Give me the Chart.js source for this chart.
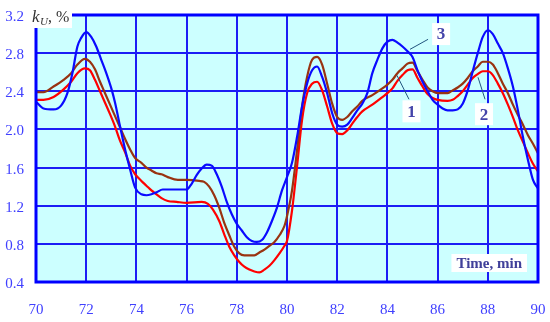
<!DOCTYPE html>
<html>
<head>
<meta charset="utf-8">
<script src="https://cdn.jsdelivr.net/npm/chart.js@4/dist/chart.umd.min.js"></script>
<style>
  html, body { margin: 0; padding: 0; background: #ffffff; }
  #wrap { width: 550px; height: 322px; }
</style>
</head>
<body>
<div id="wrap"><canvas id="c" width="550" height="322"></canvas></div>
<script>
// ---- Data ----
// Curve 1 (red)
const series1Time = [70.0,70.3,70.7,71.1,71.4,71.65,71.95,72.15,72.35,72.55,72.75,72.95,73.15,73.35,73.55,73.75,73.95,74.2,74.4,74.6,74.8,75.0,75.25,75.6,76.0,76.6,76.85,77.05,77.3,77.5,77.7,77.9,78.1,78.3,78.5,78.7,78.9,79.1,79.3,79.5,79.7,79.9,80.0,80.2,80.4,80.6,80.8,81.0,81.2,81.4,81.6,81.8,82.0,82.2,82.4,82.6,82.8,83.0,83.4,83.8,84.0,84.2,84.4,84.6,84.8,85.0,85.2,85.4,85.6,85.8,86.0,86.4,86.6,86.8,87.0,87.2,87.4,87.6,87.8,88.0,88.2,88.4,88.6,88.8,89.0,89.2,89.4,89.6,89.8,90.0];
const series1Values = [2.31,2.31,2.34,2.42,2.50,2.59,2.64,2.62,2.52,2.40,2.28,2.16,2.03,1.88,1.76,1.62,1.53,1.46,1.41,1.36,1.32,1.28,1.25,1.24,1.23,1.24,1.22,1.16,1.04,0.90,0.77,0.68,0.61,0.56,0.53,0.51,0.50,0.53,0.57,0.63,0.70,0.78,0.83,1.15,1.61,2.10,2.38,2.48,2.50,2.41,2.24,2.06,1.96,1.95,1.99,2.06,2.13,2.19,2.26,2.34,2.38,2.43,2.51,2.57,2.62,2.63,2.54,2.45,2.37,2.33,2.31,2.30,2.31,2.35,2.40,2.47,2.54,2.58,2.61,2.61,2.57,2.48,2.38,2.26,2.13,1.99,1.87,1.75,1.64,1.56];

// Curve 2 (brown)
const series2Time = [70.0,70.3,70.7,71.1,71.4,71.65,71.95,72.15,72.35,72.55,72.75,72.95,73.15,73.35,73.55,73.75,73.95,74.2,74.4,74.6,74.8,75.0,75.25,75.65,76.0,76.5,76.7,76.9,77.1,77.3,77.5,77.7,77.9,78.1,78.3,78.7,78.9,79.1,79.3,79.5,79.7,79.9,80.0,80.2,80.4,80.6,80.8,81.0,81.2,81.4,81.6,81.8,82.0,82.2,82.4,82.6,82.8,83.0,83.4,83.8,84.0,84.2,84.4,84.6,84.8,85.0,85.2,85.4,85.6,85.8,86.0,86.4,86.6,86.8,87.0,87.2,87.4,87.6,87.8,88.0,88.2,88.4,88.6,88.8,89.0,89.2,89.4,89.6,89.8,90.0];
const series2Values = [2.39,2.39,2.45,2.52,2.59,2.68,2.74,2.71,2.63,2.50,2.38,2.26,2.14,2.02,1.90,1.79,1.70,1.65,1.60,1.57,1.54,1.53,1.50,1.47,1.47,1.46,1.45,1.40,1.31,1.18,1.02,0.89,0.77,0.70,0.68,0.68,0.71,0.74,0.78,0.82,0.89,0.99,1.09,1.36,1.78,2.24,2.55,2.73,2.76,2.68,2.48,2.27,2.13,2.10,2.13,2.19,2.24,2.30,2.36,2.43,2.47,2.52,2.59,2.64,2.69,2.70,2.61,2.52,2.44,2.40,2.38,2.38,2.41,2.44,2.48,2.54,2.61,2.66,2.71,2.71,2.68,2.59,2.48,2.38,2.26,2.15,2.05,1.94,1.85,1.75];

// Curve 3 (blue)
const series3Time = [70.0,70.3,70.7,71.0,71.25,71.45,71.65,71.8,72.0,72.2,72.4,72.6,72.8,73.0,73.15,73.35,73.55,73.75,73.95,74.2,74.4,74.6,74.8,75.05,75.6,76.0,76.2,76.4,76.6,76.8,77.0,77.2,77.4,77.6,77.8,78.0,78.2,78.4,78.6,78.8,79.0,79.2,79.4,79.6,79.8,80.0,80.2,80.4,80.6,80.8,81.0,81.2,81.4,81.6,81.8,82.0,82.2,82.4,82.6,82.8,83.0,83.2,83.4,83.6,83.8,84.0,84.2,84.4,84.6,84.8,85.0,85.2,85.4,85.6,85.8,86.0,86.2,86.4,86.6,86.8,87.0,87.2,87.4,87.6,87.8,88.0,88.2,88.4,88.6,88.8,89.0,89.2,89.4,89.6,89.8,90.0];
const series3Values = [2.29,2.22,2.21,2.25,2.38,2.59,2.87,2.96,3.02,2.97,2.87,2.73,2.59,2.43,2.28,2.03,1.79,1.58,1.39,1.32,1.31,1.32,1.34,1.37,1.37,1.37,1.43,1.52,1.59,1.63,1.62,1.53,1.40,1.24,1.11,1.01,0.94,0.87,0.83,0.82,0.84,0.92,1.04,1.18,1.36,1.50,1.65,1.92,2.24,2.48,2.62,2.66,2.55,2.38,2.17,2.05,2.03,2.05,2.12,2.20,2.27,2.38,2.59,2.73,2.85,2.92,2.94,2.91,2.87,2.82,2.76,2.62,2.50,2.40,2.31,2.26,2.22,2.20,2.20,2.21,2.27,2.41,2.61,2.80,2.97,3.04,3.00,2.90,2.80,2.64,2.45,2.20,1.92,1.68,1.47,1.38];

// Tick labels
const xTickValues = [70,72,74,76,78,80,82,84,86,88,90];
const yTickValues = [0.4,0.8,1.2,1.6,2.0,2.4,2.8,3.2];

// Text
const xAxisTitle = 'Time, min';
const curveLabels = ['1','2','3'];
// Curve-number annotations (data coordinates): label centre and leader line
const curveLabelPos = [[84.96,2.19],[87.85,2.16],[86.14,3.0]];
const curveLeaders = [[84.86,2.316,84.38,2.567],[87.89,2.316,87.61,2.547],[85.62,2.945,84.90,2.84]];

// ---- Build ----
function pts(t, v) { return t.map((x, i) => ({ x: x, y: v[i] })); }

const SERIF = '"Liberation Serif", "DejaVu Serif", serif';

const decor = {
  id: 'decor',
  beforeDraw(chart) {
    const { ctx, chartArea: a } = chart;
    ctx.save();
    ctx.fillStyle = '#ccffff';
    ctx.fillRect(a.left, a.top, a.right - a.left, a.bottom - a.top);
    ctx.restore();
  },
  afterDatasetsDraw(chart) {
    const { ctx, chartArea: a } = chart;
    ctx.save();
    ctx.strokeStyle = '#0000ff';
    ctx.lineWidth = 3;
    ctx.strokeRect(a.left, a.top, a.right - a.left, a.bottom - a.top);
    ctx.restore();
  },
  afterDraw(chart) {
    const { ctx, chartArea: a, scales } = chart;
    const xs = scales.x, ys = scales.y;
    ctx.save();
    // leader lines
    ctx.strokeStyle = '#22557f';
    ctx.lineWidth = 1;
    curveLeaders.forEach(l => {
      ctx.beginPath();
      ctx.moveTo(xs.getPixelForValue(l[0]), ys.getPixelForValue(l[1]));
      ctx.lineTo(xs.getPixelForValue(l[2]), ys.getPixelForValue(l[3]));
      ctx.stroke();
    });
    // curve number boxes
    ctx.font = 'bold 17px ' + SERIF;
    ctx.textAlign = 'center';
    ctx.textBaseline = 'middle';
    curveLabelPos.forEach((p, i) => {
      const px = xs.getPixelForValue(p[0]);
      const py = ys.getPixelForValue(p[1]);
      ctx.fillStyle = '#ffffff';
      ctx.fillRect(px - 9, py - 11, 18, 22);
      ctx.fillStyle = '#4444aa';
      ctx.fillText(curveLabels[i], px, py + 1);
    });
    // x axis title box
    ctx.font = 'bold 15px ' + SERIF;
    const tw = ctx.measureText(xAxisTitle).width;
    const bx = a.right - 11 - (tw + 10);
    const by = a.bottom - 28;
    ctx.fillStyle = '#ffffff';
    ctx.fillRect(bx, by, tw + 10, 18);
    ctx.fillStyle = '#40409a';
    ctx.textAlign = 'center';
    ctx.fillText(xAxisTitle, bx + (tw + 10) / 2, by + 10);
    // y axis title k_U, %
    ctx.fillStyle = '#ffffff';
    ctx.fillRect(a.left - 6, 0, 42, 28);
    ctx.fillStyle = '#333333';
    ctx.textAlign = 'left';
    ctx.textBaseline = 'alphabetic';
    ctx.font = 'italic 17px ' + SERIF;
    ctx.fillText('k', a.left - 4, 22);
    ctx.font = 'italic 11px ' + SERIF;
    ctx.fillText('U', a.left + 4, 25);
    ctx.font = '16px ' + SERIF;
    ctx.fillText(', %', a.left + 12, 22);
    ctx.restore();
  }
};

new Chart(document.getElementById('c'), {
  type: 'line',
  data: {
    datasets: [
      { label: '3', data: pts(series3Time, series3Values), borderColor: '#0a0aff', borderWidth: 2.2 },
      { label: '2', data: pts(series2Time, series2Values), borderColor: '#993311', borderWidth: 2.2 },
      { label: '1', data: pts(series1Time, series1Values), borderColor: '#ff0000', borderWidth: 2.2 }
    ]
  },
  options: {
    responsive: false,
    animation: false,
    devicePixelRatio: 1,
    layout: { padding: { top: 15, right: 12, left: 0, bottom: 0 } },
    elements: {
      point: { radius: 0 },
      line: { cubicInterpolationMode: 'monotone', fill: false }
    },
    plugins: { legend: { display: false }, tooltip: { enabled: false } },
    scales: {
      x: {
        type: 'linear', min: 70, max: 90,
        afterBuildTicks: ax => { ax.ticks = xTickValues.map(v => ({ value: v })); },
        afterFit: ax => { ax.height = 40; ax.paddingLeft = 0; ax.paddingRight = 0; },
        grid: { color: '#1c1cf5', lineWidth: 2, drawTicks: false },
        border: { display: false },
        ticks: {
          padding: 19, maxRotation: 0, autoSkip: false,
          color: '#4040ff', font: { family: SERIF, size: 15 },
          callback: v => String(v)
        }
      },
      y: {
        type: 'linear', min: 0.4, max: 3.2,
        afterBuildTicks: ax => { ax.ticks = yTickValues.map(v => ({ value: v })); },
        afterFit: ax => { ax.width = 36; ax.paddingTop = 0; ax.paddingBottom = 0; },
        grid: { color: '#1c1cf5', lineWidth: 2, drawTicks: false },
        border: { display: false },
        ticks: {
          padding: 12, autoSkip: false, labelOffset: 2,
          color: '#4040ff', font: { family: SERIF, size: 15 },
          callback: v => Number(v).toFixed(1)
        }
      }
    }
  },
  plugins: [decor]
});
</script>
</body>
</html>
